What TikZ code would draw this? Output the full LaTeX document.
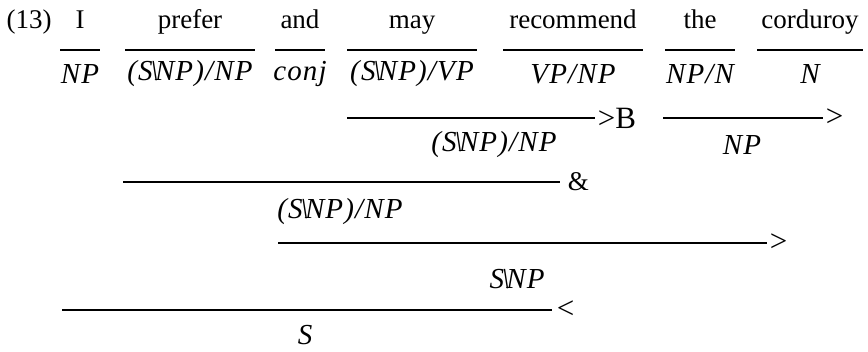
\documentclass[tikz,border=0pt]{standalone}
\usepackage{fontspec}
\setmainfont{Liberation Serif}
% tucked-in backslash for categories
\newcommand{\bs}{\kern-0.08em\textbackslash\kern-0.12em}
\begin{document}
\begin{tikzpicture}[x=1pt, y=-1pt,
    font=\fontsize{27}{32}\selectfont,
    cat/.style={font=\fontsize{29}{32}\selectfont\itshape\addfontfeature{LetterSpace=4}},
    op/.style={font=\fontsize{31}{32}\selectfont, inner sep=2pt},
    rule/.style={line width=1.7pt}]
    \useasboundingbox (0,0) rectangle (868,351);

    % words
    \node[anchor=base] (ex) at (29, 28) {(13)};
    \node[anchor=base] (w1) at (80, 28) {I};
    \node[anchor=base] (w2) at (190, 28) {prefer};
    \node[anchor=base] (w3) at (300, 28) {and};
    \node[anchor=base] (w4) at (412, 28) {may};
    \node[anchor=base] (w5) at (573, 28) {recommend};
    \node[anchor=base] (w6) at (700, 28) {the};
    \node[anchor=base] (w7) at (810, 28) {corduroy};

    % lexical rules
    \draw[rule] (60, 50) -- (100, 50);
    \draw[rule] (125, 50) -- (255, 50);
    \draw[rule] (275, 50) -- (325, 50);
    \draw[rule] (347, 50) -- (477, 50);
    \draw[rule] (503, 50) -- (643, 50);
    \draw[rule] (665, 50) -- (735, 50);
    \draw[rule] (757, 50) -- (863, 50);

    % categories
    \node[cat] (c1) at (80, 74) {NP};
    \node[cat] (c2) at (190, 74) {(S\bs NP)/NP};
    \node[cat] (c3) at (300, 74) {conj};
    \node[cat] (c4) at (412, 74) {(S\bs NP)/VP};
    \node[cat] (c5) at (573, 74) {VP/NP};
    \node[cat] (c6) at (700, 74) {NP/N};
    \node[cat] (c7) at (810, 74) {N};

    % composition and application
    \draw[rule] (347, 118) -- (595, 118) node[op, right] (r1) {>B};
    \node[cat] (d1) at (494, 145) {(S\bs NP)/NP};
    \draw[rule] (663, 118) -- (823, 118) node[op, right] (r2) {>};
    \node[cat] (d2) at (742, 145) {NP};

    % coordination
    \draw[rule] (123, 182) -- (560, 182) node[right, inner sep=7pt] (r3) {\&};
    \node[cat] (d3) at (340, 212) {(S\bs NP)/NP};

    \draw[rule] (278, 243) -- (767, 243) node[op, right] (r4) {>};
    \node[cat] (d4) at (517, 279) {S\bs NP};

    \draw[rule] (62, 310) -- (552, 310) node[op, right, inner sep=4pt] (r5) {<};
    \node[cat] (d5) at (305, 335) {S};
\end{tikzpicture}
\end{document}
